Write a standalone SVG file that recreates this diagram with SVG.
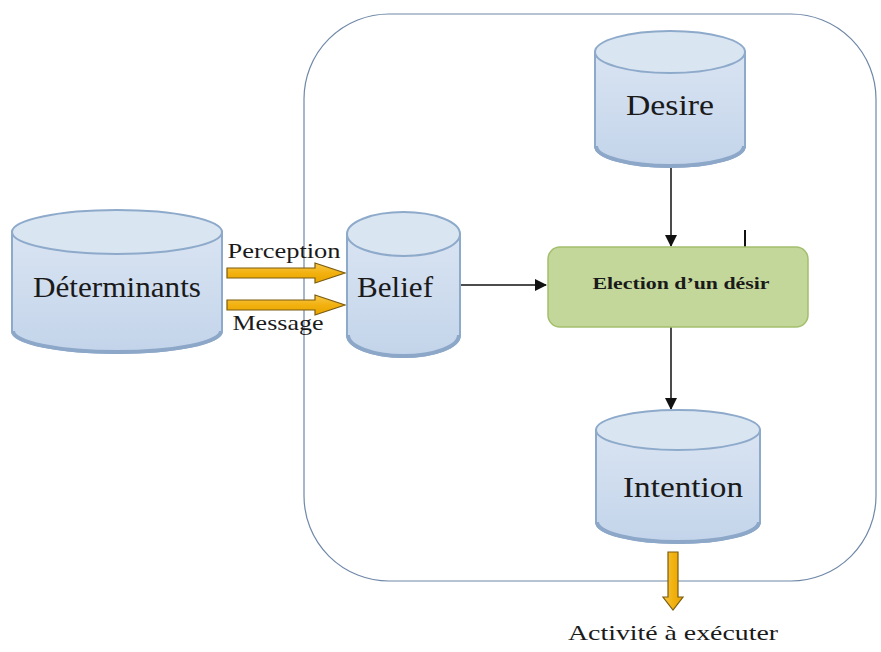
<svg xmlns="http://www.w3.org/2000/svg" width="881" height="652" viewBox="0 0 881 652">
<defs>
<linearGradient id="cyl" x1="0" y1="0" x2="0" y2="1">
<stop offset="0" stop-color="#d9e4f2"/>
<stop offset="1" stop-color="#c3d4ea"/>
</linearGradient>
<linearGradient id="yel" x1="0" y1="0" x2="0" y2="1">
<stop offset="0" stop-color="#f7c84a"/>
<stop offset="0.5" stop-color="#f2b10f"/>
<stop offset="1" stop-color="#e9a400"/>
</linearGradient>
<linearGradient id="yelv" x1="0" y1="0" x2="1" y2="0">
<stop offset="0" stop-color="#f7c84a"/>
<stop offset="0.5" stop-color="#f2b10f"/>
<stop offset="1" stop-color="#e9a400"/>
</linearGradient>
<marker id="ah" markerWidth="12" markerHeight="12" refX="11" refY="6" orient="auto" markerUnits="userSpaceOnUse">
<path d="M0,0 L12,6 L0,12 Z" fill="#111"/>
</marker>
</defs>
<style>
.body{fill:url(#cyl);stroke:#8eaacb;stroke-width:2}
.top{fill:#dae5f2;stroke:#8eaacb;stroke-width:2}
.shadow{fill:none;stroke:#8ca7c8;stroke-width:4}
.lbl{font-family:"Liberation Serif","Times New Roman",serif;fill:#1a1a1a;text-anchor:middle}
.con{stroke:#111;stroke-width:1.5;fill:none}
.yarr{stroke:#7a5c10;stroke-width:1.2}
</style>
<rect x="304" y="14" width="572" height="567" rx="85" ry="85" fill="#ffffff" stroke="#6f88a8" stroke-width="1.2"/>

<g id="connectors">
<line class="con" x1="671" y1="168" x2="671" y2="246" marker-end="url(#ah)"/>
<line class="con" x1="461" y1="285" x2="546" y2="285" marker-end="url(#ah)"/>
<line class="con" x1="671" y1="327" x2="671" y2="409" marker-end="url(#ah)"/>
<line x1="745" y1="230" x2="745" y2="263" stroke="#111" stroke-width="2"/>
<path class="yarr" fill="url(#yel)" d="M227,268 L315,268 L315,263 L345,273 L315,283 L315,278 L227,278 Z"/>
<path class="yarr" fill="url(#yel)" d="M227,300 L315,300 L315,295 L345,305 L315,315 L315,310 L227,310 Z"/>
<path class="yarr" fill="url(#yelv)" d="M668,552 L678,552 L678,597 L683,597 L673,610 L663,597 L668,597 Z"/>
</g>

<g id="determinants">
<path class="body" d="M12,232 L12,331 A105,22 0 0 0 222,331 L222,232 Z"/>
<path class="shadow" d="M13,331 A104,21 0 0 0 221,331"/>
<ellipse class="top" cx="117" cy="232" rx="105" ry="22"/>
<text class="lbl" x="117" y="297" font-size="30" textLength="168" lengthAdjust="spacingAndGlyphs">Déterminants</text>
</g>

<g id="belief">
<path class="body" d="M347,234 L347,335 A56.5,22 0 0 0 460,335 L460,234 Z"/>
<path class="shadow" d="M348,335 A55.5,21 0 0 0 459,335"/>
<ellipse class="top" cx="403.5" cy="234" rx="56.5" ry="22"/>
<text class="lbl" x="395" y="297" font-size="30" textLength="76" lengthAdjust="spacingAndGlyphs">Belief</text>
</g>

<g id="desire">
<path class="body" d="M595,52 L595,146 A75,21 0 0 0 745,146 L745,52 Z"/>
<path class="shadow" d="M596,146 A74,20 0 0 0 744,146"/>
<ellipse class="top" cx="670" cy="52" rx="75" ry="21"/>
<text class="lbl" x="670" y="115" font-size="30" textLength="88" lengthAdjust="spacingAndGlyphs">Desire</text>
</g>

<g id="election">
<rect x="548" y="247" width="260" height="80" rx="12" ry="12" fill="#c4d79b" stroke="#a3bf6e" stroke-width="1.5"/>
<text class="lbl" x="681" y="289" font-size="16" font-weight="bold" textLength="177" lengthAdjust="spacingAndGlyphs">Election d’un désir</text>
</g>

<g id="intention">
<path class="body" d="M596,430 L596,522 A82,21 0 0 0 760,522 L760,430 Z"/>
<path class="shadow" d="M597,522 A81,20 0 0 0 759,522"/>
<ellipse class="top" cx="678" cy="430" rx="82" ry="20"/>
<text class="lbl" x="683" y="497" font-size="30" textLength="120" lengthAdjust="spacingAndGlyphs">Intention</text>
</g>

<g id="labels">
<text class="lbl" x="284" y="258" font-size="22" textLength="113" lengthAdjust="spacingAndGlyphs">Perception</text>
<text class="lbl" x="278" y="330" font-size="22" textLength="91" lengthAdjust="spacingAndGlyphs">Message</text>
<text class="lbl" x="673" y="640" font-size="21" textLength="210" lengthAdjust="spacingAndGlyphs">Activité à exécuter</text>
</g>
</svg>
